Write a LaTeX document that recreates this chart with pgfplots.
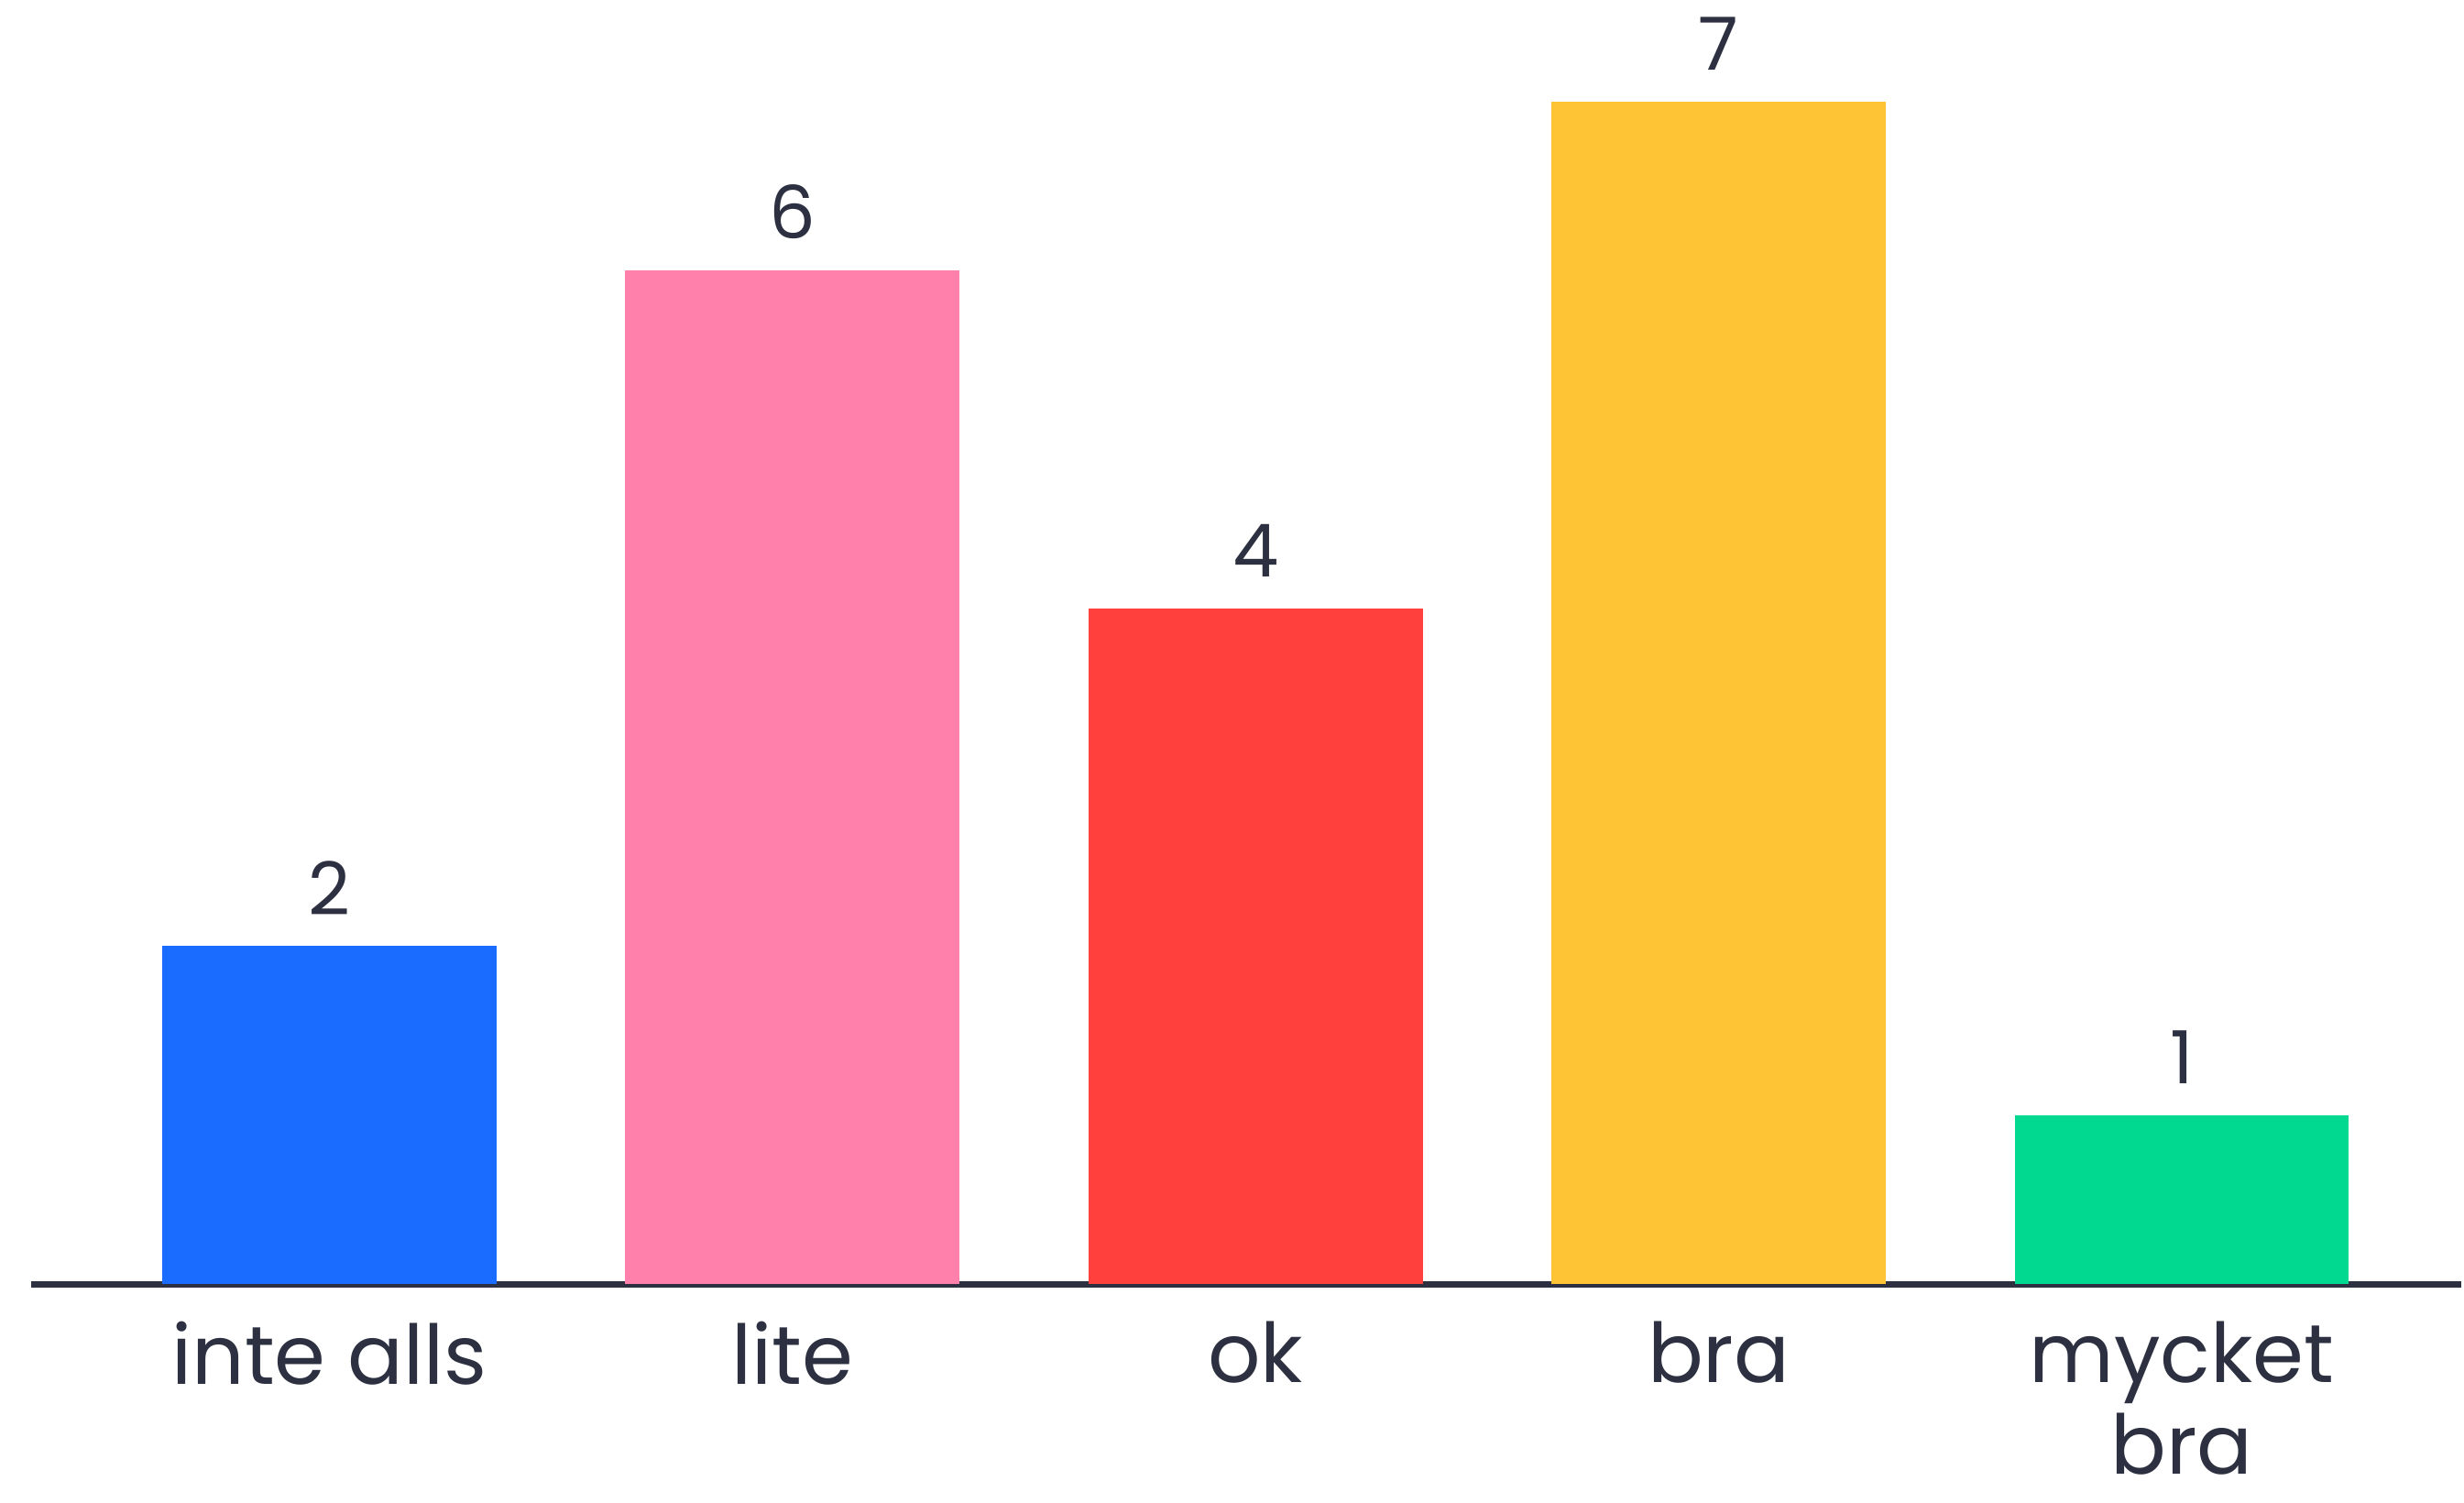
\documentclass[border=0pt]{standalone}
\usepackage{pgfplots}
\pgfplotsset{compat=1.18}
\usepackage{fontspec}
\setmainfont{Poppins}
\definecolor{cblue}{HTML}{196CFF}
\definecolor{cpink}{HTML}{FF80AB}
\definecolor{cred}{HTML}{FF403D}
\definecolor{cyellow}{HTML}{FFC336}
\definecolor{cgreen}{HTML}{00D98F}
\definecolor{cdark}{HTML}{2C3040}
\begin{document}
\begin{tikzpicture}
\begin{axis}[
  scale only axis,
  width=796.5pt, height=420.9pt,
  xmin=-0.644, xmax=4.603,
  ymin=0, ymax=7.6,
  axis x line=bottom,
  axis y line=none,
  axis line style={cdark, line width=2pt, -},
  /pgf/number format/assume math mode=true,
  xtick={0,1,2,3,4},
  xticklabels={inte alls, lite, ok, bra, {mycket\\bra}},
  xticklabel style={font=\fontsize{27}{30}\selectfont, text=cdark, align=center, anchor=north, inner sep=0pt, yshift=-12pt},
  major tick length=0pt,
  ytick=\empty,
  bar width=0.722,
  ybar, bar shift=0pt,
  nodes near coords,
  every node near coord/.append style={font=\fontsize{24}{28}\selectfont, text=cdark, anchor=south, inner sep=0pt, yshift=10pt},
  clip=false,
]
\addplot[fill=cblue, draw=none] coordinates {(0,2)};
\addplot[fill=cpink, draw=none] coordinates {(1,6)};
\addplot[fill=cred, draw=none] coordinates {(2,4)};
\addplot[fill=cyellow, draw=none] coordinates {(3,7)};
\addplot[fill=cgreen, draw=none] coordinates {(4,1)};
\path (rel axis cs:-0.0128,-0.1703) rectangle (rel axis cs:1,1);
\end{axis}
\end{tikzpicture}
\end{document}
